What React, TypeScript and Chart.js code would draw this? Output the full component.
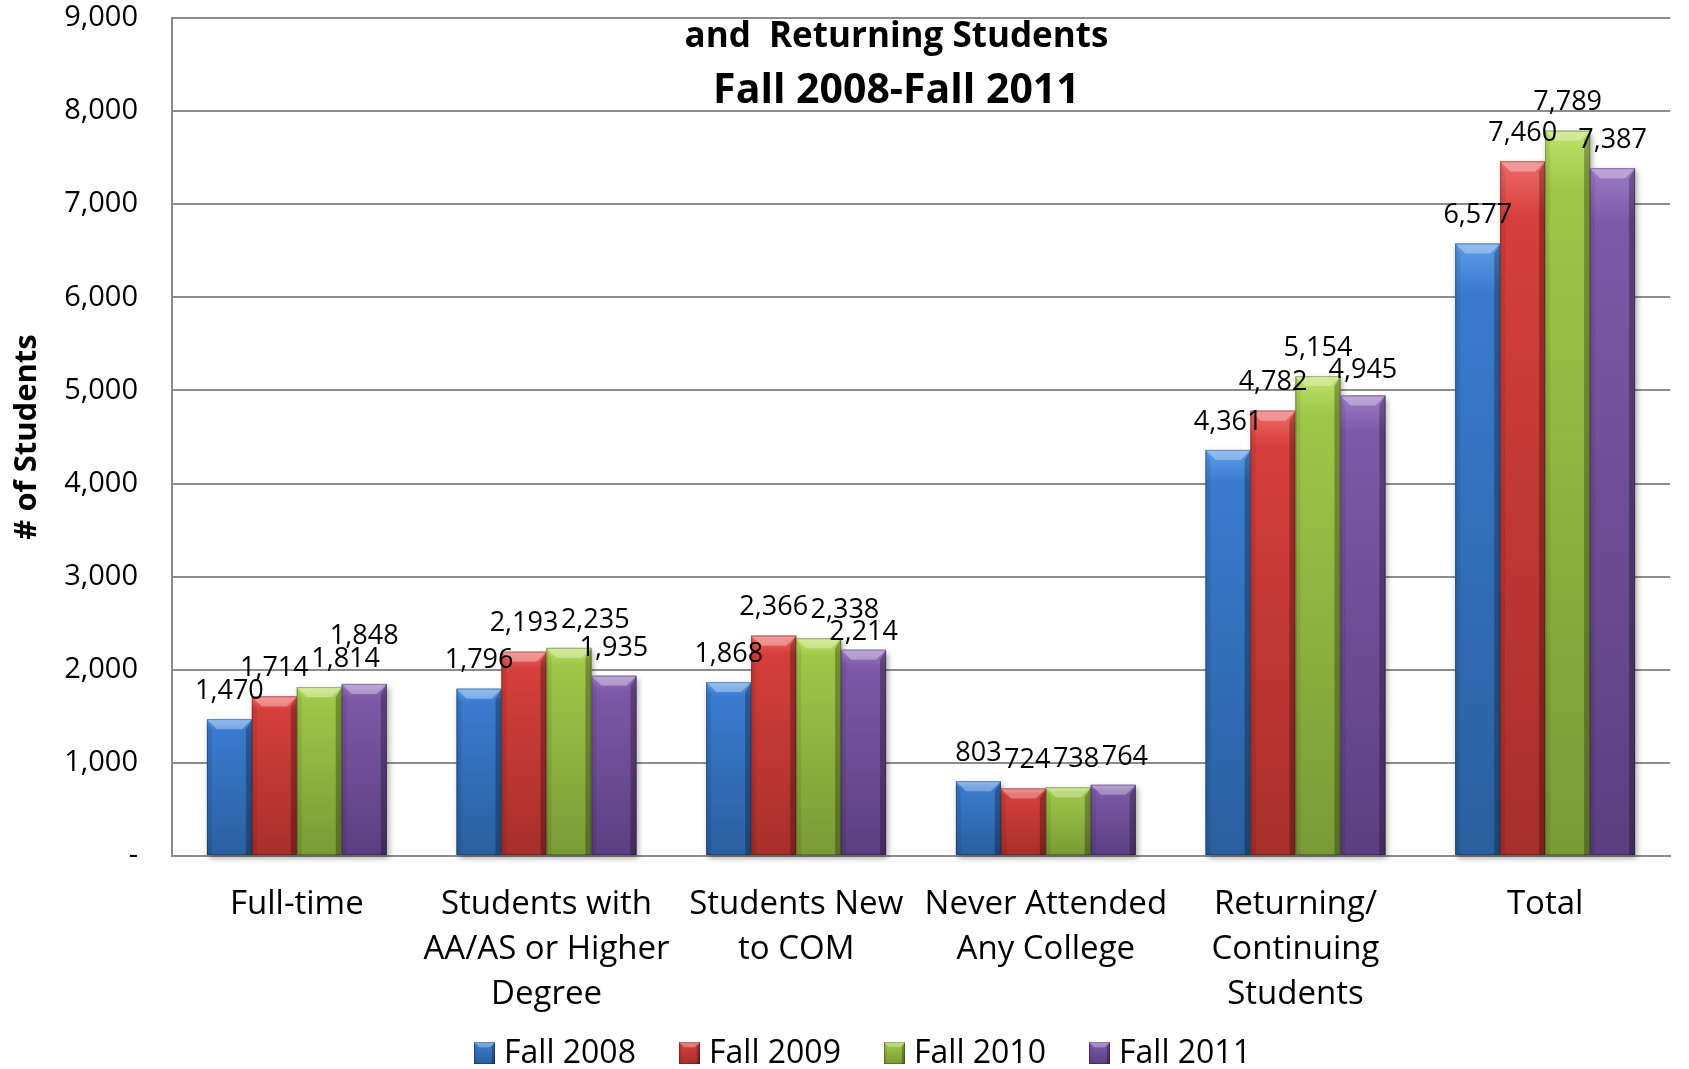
import React, { useEffect, useRef } from 'react';
import { Chart, registerables } from 'chart.js';

Chart.register(...registerables);

const categories: string[][] = [
  ['Full-time'],
  ['Students with', 'AA/AS or Higher', 'Degree'],
  ['Students New', 'to COM'],
  ['Never Attended', 'Any College'],
  ['Returning/', 'Continuing', 'Students'],
  ['Total'],
];
const seriesNames = ['Fall 2008', 'Fall 2009', 'Fall 2010', 'Fall 2011'];
const fall2008 = [1470, 1796, 1868, 803, 4361, 6577];
const fall2009 = [1714, 2193, 2366, 724, 4782, 7460];
const fall2010 = [1814, 2235, 2338, 738, 5154, 7789];
const fall2011 = [1848, 1935, 2214, 764, 4945, 7387];
const yMax = 9000;
const yStep = 1000;
const titleLines = ['and  Returning Students', 'Fall 2008-Fall 2011'];
const yAxisTitle = '# of Students';

const palette = [
  { base: '#3a7bcf', light: '#5c9de8', dark: '#2a5f9f' },
  { base: '#d63f3b', light: '#ef6c67', dark: '#a72f2b' },
  { base: '#9fc748', light: '#c0e26c', dark: '#7a9a36' },
  { base: '#7d59a7', light: '#9c7bc6', dark: '#5b3f80' },
];

const FONT = '"Open Sans", "Noto Sans", sans-serif';
const GRID = '#8c8c8c';

function drawBevelBar(ctx: CanvasRenderingContext2D, left: number, top: number, right: number, bottom: number, c: { base: string; light: string; dark: string }) {
  const w = right - left;
  const h = bottom - top;
  if (h <= 0 || w <= 0) return;
  const g = ctx.createLinearGradient(0, top, 0, bottom);
  g.addColorStop(0, c.light);
  g.addColorStop(0.08, c.base);
  g.addColorStop(1, c.dark);
  ctx.fillStyle = g;
  ctx.fillRect(left, top, w, h);
  const b = Math.min(10, h / 2, w / 4);
  ctx.beginPath();
  ctx.moveTo(left, top);
  ctx.lineTo(right, top);
  ctx.lineTo(right - b, top + b);
  ctx.lineTo(left + b, top + b);
  ctx.closePath();
  ctx.fillStyle = 'rgba(255,255,255,0.32)';
  ctx.fill();
  ctx.beginPath();
  ctx.moveTo(left, top);
  ctx.lineTo(left + b * 0.5, top + b);
  ctx.lineTo(left + b * 0.5, bottom);
  ctx.lineTo(left, bottom);
  ctx.closePath();
  ctx.fillStyle = 'rgba(0,0,0,0.08)';
  ctx.fill();
  ctx.beginPath();
  ctx.moveTo(right, top);
  ctx.lineTo(right - b * 0.6, top + b);
  ctx.lineTo(right - b * 0.6, bottom);
  ctx.lineTo(right, bottom);
  ctx.closePath();
  ctx.fillStyle = 'rgba(0,0,0,0.28)';
  ctx.fill();
  ctx.strokeStyle = 'rgba(0,0,0,0.25)';
  ctx.lineWidth = 1;
  ctx.strokeRect(left + 0.5, top + 0.5, w - 1, h - 1);
}

type Box = { l: number; r: number; t: number; b: number };
const intersects = (a: Box, q: Box) => a.l < q.r && a.r > q.l && a.t < q.b && a.b > q.t;

const decorPlugin = {
  id: 'decor',
  beforeDatasetsDraw(chart: any) {
    const ctx = chart.ctx as CanvasRenderingContext2D;
    ctx.save();
    chart.data.datasets.forEach((_: any, di: number) => {
      const meta = chart.getDatasetMeta(di);
      meta.data.forEach((el: any) => {
        const p = el.getProps(['x', 'y', 'base', 'width'], true);
        ctx.shadowColor = 'rgba(0,0,0,0.35)';
        ctx.shadowBlur = 6;
        ctx.shadowOffsetX = 2;
        ctx.shadowOffsetY = 3;
        ctx.fillStyle = '#777';
        ctx.fillRect(p.x - p.width / 2, p.y, p.width, p.base - p.y);
      });
    });
    ctx.restore();
  },
  afterDatasetsDraw(chart: any) {
    const ctx = chart.ctx as CanvasRenderingContext2D;
    ctx.save();
    chart.data.datasets.forEach((_: any, di: number) => {
      const meta = chart.getDatasetMeta(di);
      meta.data.forEach((el: any) => {
        const p = el.getProps(['x', 'y', 'base', 'width'], true);
        drawBevelBar(ctx, p.x - p.width / 2, p.y, p.x + p.width / 2, p.base, palette[di]);
      });
    });
    ctx.font = `27px ${FONT}`;
    ctx.fillStyle = '#000';
    ctx.textAlign = 'center';
    ctx.textBaseline = 'middle';
    const nCat = chart.data.labels.length;
    const half = 11;
    for (let ci = 0; ci < nCat; ci++) {
      const placed: Box[] = [];
      chart.data.datasets.forEach((ds: any, di: number) => {
        const el = chart.getDatasetMeta(di).data[ci];
        const p = el.getProps(['x', 'y'], true);
        const txt = Number(ds.data[ci]).toLocaleString('en-US');
        const tw = ctx.measureText(txt).width;
        const mk = (dx: number, cy: number): Box => ({ l: p.x + dx - tw / 2 - 1, r: p.x + dx + tw / 2 + 1, t: cy - half, b: cy + half });
        const free = (b: Box) => !placed.some((q) => intersects(b, q));
        let dx = 0;
        let cy = p.y - 28;
        let bx = mk(dx, cy);
        if (!free(bx)) {
          const hit = placed.find((q) => intersects(bx, q)) as Box;
          const downNeed = hit.b - bx.t + 0.5;
          const rightNeed = hit.r - bx.l + 0.5;
          const cands: [number, number][] = [];
          if (downNeed <= 6) cands.push([0, downNeed]);
          if (rightNeed <= 27) cands.push([rightNeed, 0]);
          if (downNeed <= 13) cands.push([0, downNeed]);
          let done = false;
          for (const [ddx, ddy] of cands) {
            const b = mk(ddx, cy + ddy);
            if (free(b)) {
              dx = ddx;
              cy = cy + ddy;
              bx = b;
              done = true;
              break;
            }
          }
          let guard = 0;
          while (!done && guard < 10) {
            const h2 = placed.find((q) => intersects(bx, q));
            if (!h2) break;
            cy = h2.t - half - 1;
            bx = mk(dx, cy);
            guard++;
          }
        }
        placed.push(bx);
        ctx.fillText(txt, p.x + dx, cy);
      });
    }
    ctx.restore();
  },
  afterDraw(chart: any) {
    const ctx = chart.ctx as CanvasRenderingContext2D;
    const ca = chart.chartArea;
    ctx.save();
    ctx.fillStyle = '#000';
    ctx.textAlign = 'center';
    ctx.textBaseline = 'middle';
    const tx = ca.left + ca.width * 0.4836;
    ctx.font = `bold 35px ${FONT}`;
    ctx.fillText(titleLines[0], tx, 37);
    ctx.font = `bold 41px ${FONT}`;
    ctx.fillText(titleLines[1], tx, 91);
    ctx.save();
    ctx.translate(27, (ca.top + ca.bottom) / 2);
    ctx.rotate(-Math.PI / 2);
    ctx.font = `bold 31px ${FONT}`;
    ctx.fillText(yAxisTitle, 0, 0);
    ctx.restore();
    const ly = 1053;
    const lx0 = 474;
    const step = 205;
    ctx.font = `32px ${FONT}`;
    ctx.textAlign = 'left';
    seriesNames.forEach((name, i) => {
      const x = lx0 + i * step;
      drawBevelBar(ctx, x, ly - 11, x + 21, ly + 11, palette[i]);
      ctx.fillStyle = '#000';
      ctx.fillText(name, x + 30, ly + 1);
    });
    ctx.restore();
  },
};

export default function App() {
  const ref = useRef<HTMLCanvasElement | null>(null);
  useEffect(() => {
    document.body.style.margin = '0';
    const canvas = ref.current;
    if (!canvas) return;
    const allSeries = [fall2008, fall2009, fall2010, fall2011];
    const chart = new Chart(canvas, {
      type: 'bar',
      data: {
        labels: categories as any,
        datasets: allSeries.map((d, i) => ({
          label: seriesNames[i],
          data: d,
          backgroundColor: palette[i].base,
          borderWidth: 0,
          categoryPercentage: 0.72,
          barPercentage: 1.0,
        })),
      },
      options: {
        responsive: false,
        animation: false,
        layout: { padding: { top: 18, right: 19, left: 0, bottom: 0 } },
        plugins: {
          legend: { display: false },
          title: { display: false },
          tooltip: { enabled: false },
        },
        scales: {
          x: {
            grid: { display: false, drawTicks: false },
            border: { display: true, color: GRID, width: 2 },
            ticks: {
              font: { family: FONT, size: 33, lineHeight: 1.364 },
              color: '#000',
              padding: 26,
              maxRotation: 0,
              autoSkip: false,
            },
            afterFit: (s: any) => {
              s.height = 213;
              s.paddingLeft = 0;
              s.paddingRight = 0;
            },
          },
          y: {
            min: 0,
            max: yMax,
            ticks: {
              stepSize: yStep,
              font: { family: FONT, size: 29 },
              color: '#000',
              padding: 34,
              callback: (v: any) => (Number(v) === 0 ? '-' : Number(v).toLocaleString('en-US')),
            },
            grid: { color: GRID, lineWidth: 2, drawTicks: false },
            border: { display: true, color: GRID, width: 2 },
            afterFit: (s: any) => {
              s.width = 172;
              s.paddingTop = 0;
              s.paddingBottom = 0;
            },
          },
        },
      },
      plugins: [decorPlugin],
    });
    return () => chart.destroy();
  }, []);
  return <canvas ref={ref} width={1689} height={1069} style={{ display: 'block' }} />;
}
